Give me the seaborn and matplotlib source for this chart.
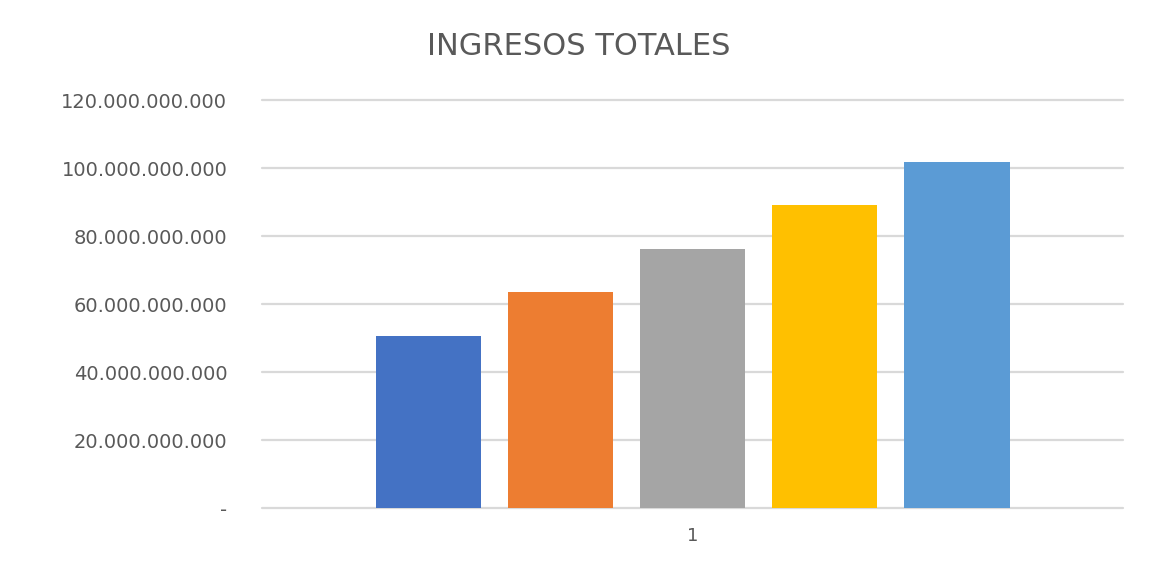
import pandas as pd
import seaborn as sns
import matplotlib.pyplot as plt
from matplotlib.ticker import FuncFormatter

# Data
categories = ["1"]
series = ["Serie1", "Serie2", "Serie3", "Serie4", "Serie5"]
values = [50.7e9, 63.6e9, 76.3e9, 89.2e9, 101.9e9]
colors = ["#4472C4", "#ED7D31", "#A5A5A5", "#FFC000", "#5B9BD5"]

df = pd.DataFrame({"cat": categories * len(series), "serie": series, "valor": values})

sns.set_theme(style="white")
plt.rcParams['font.family'] = ['DejaVu Sans']

fig = plt.figure(figsize=(11.58, 5.67), dpi=100)
ax = fig.add_axes([0.2263, 0.104, 0.7435, 0.719])

sns.barplot(data=df, x="cat", y="valor", hue="serie", palette=colors,
            width=0.767, gap=0.2, saturation=1, linewidth=0, legend=False,
            ax=ax, zorder=3)

ax.set_ylim(0, 120e9)
ax.set_xlim(-0.5, 0.5)
ax.set_yticks([i * 20e9 for i in range(7)])


def fmt(v, pos):
    if v == 0:
        return "-"
    return f"{int(v):,}".replace(",", ".")


ax.yaxis.set_major_formatter(FuncFormatter(fmt))
ax.grid(axis="y", color="#D9D9D9", linewidth=1.6, zorder=0)
for gl in ax.get_ygridlines():
    gl.set_clip_on(False)
ax.set_axisbelow(True)
for s in ax.spines.values():
    s.set_visible(False)
ax.tick_params(axis="y", length=0, pad=25, labelsize=14, labelcolor="#595959")
ax.tick_params(axis="x", length=0, pad=14, labelsize=13, labelcolor="#595959")
ax.set_xlabel("")
ax.set_ylabel("")

fig.text(0.5, 0.918, "INGRESOS TOTALES", ha="center", va="center",
         fontsize=22, color="#595959")

fig.savefig("out.png", dpi=100)
